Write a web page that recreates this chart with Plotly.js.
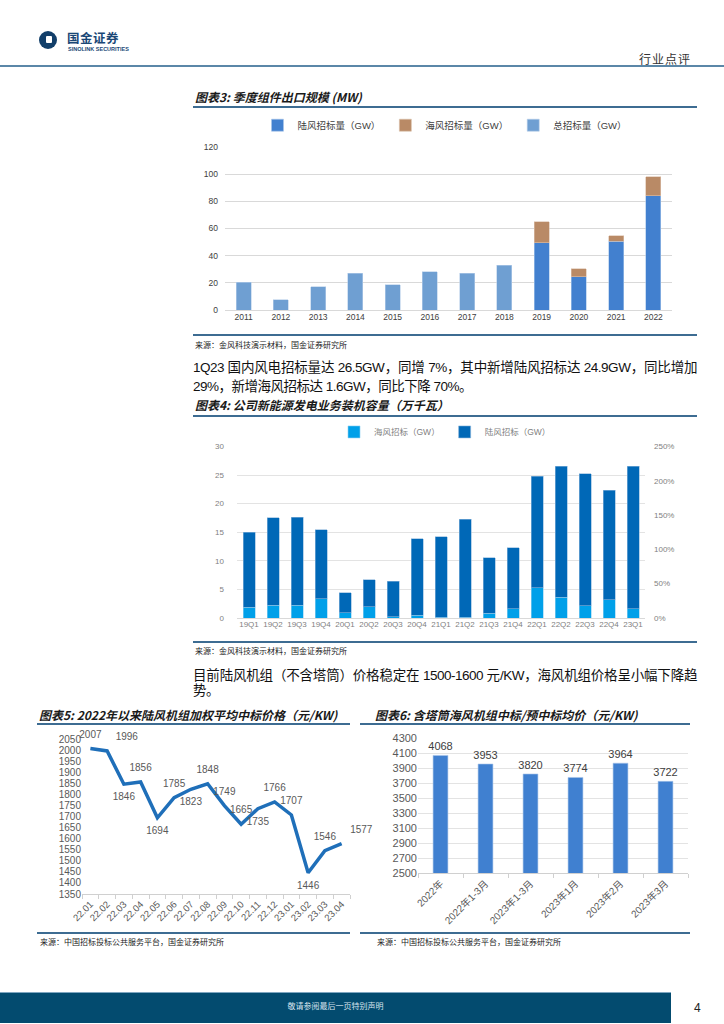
<!DOCTYPE html>
<html><head><meta charset="utf-8">
<script src="https://cdn.plot.ly/plotly-3.0.1.min.js"></script>
<style>
body{margin:0;width:724px;height:1024px;position:relative;background:#fff;overflow:hidden;font-family:"Liberation Sans","Noto Sans CJK SC",sans-serif}
.abs{position:absolute;white-space:nowrap}
.ttl{position:absolute;white-space:nowrap;font-family:"Noto Sans CJK SC",sans-serif;font-weight:bold;font-style:italic;font-size:12px;color:#1a1a1a;line-height:14px}
.hl{position:absolute;height:2px;background:#3d6c92}
.src{position:absolute;white-space:nowrap;font-family:"Noto Sans CJK SC",sans-serif;font-size:8px;color:#222;line-height:10px}
.pl{position:absolute;font-size:13.5px;letter-spacing:-0.5px;color:#111;white-space:nowrap;font-family:"Liberation Sans","Noto Sans CJK SC",sans-serif;line-height:16px}
.pj{text-align:justify;text-align-last:justify;white-space:normal}
.plot{position:absolute}
</style>
</head><body>
<!-- header -->
<div class="abs" style="left:39px;top:31px;width:18px;height:18px;border-radius:50%;background:#123f6a"></div>
<div class="abs" style="left:46px;top:36px;width:6px;height:7px;border-radius:1px;background:#fff"></div>
<div class="abs" style="left:67px;top:31px;font-family:'Noto Sans CJK SC';font-weight:bold;font-size:12.5px;color:#1a4776;letter-spacing:0.5px;line-height:13px">国金证券</div>
<div class="abs" style="left:68px;top:46px;font-family:'Liberation Sans';font-weight:bold;font-size:5.5px;color:#1a4776;line-height:6px">SINOLINK SECURITIES</div>
<div class="abs" style="left:639px;top:52px;font-family:'Noto Sans CJK SC';font-size:12px;color:#333;letter-spacing:1px;line-height:14px">行业点评</div>
<div class="hl" style="left:0;top:65px;width:724px;background:#5b87a8"></div>

<!-- chart 3 -->
<div class="ttl" style="left:195px;top:90px">图表3: 季度组件出口规模 (MW)</div>
<div class="hl" style="left:193px;top:106px;width:504px;height:1.5px"></div>
<div id="c1" class="plot" style="left:185px;top:112px;width:500px;height:220px"></div>
<div class="hl" style="left:193px;top:334px;width:504px;height:1.5px"></div>
<div class="src" style="left:195px;top:340px">来源：金风科技演示材料，国金证券研究所</div>

<div class="pl pj" style="left:193px;top:360px;width:504px">1Q23 国内风电招标量达 26.5GW，同增 7%，其中新增陆风招标达 24.9GW，同比增加</div>
<div class="pl" style="left:193px;top:379px">29%，新增海风招标达 1.6GW，同比下降 70%。</div>

<!-- chart 4 -->
<div class="ttl" style="left:195px;top:398px">图表4: 公司新能源发电业务装机容量（万千瓦）</div>
<div class="hl" style="left:193px;top:415px;width:504px;height:1.5px"></div>
<div id="c2" class="plot" style="left:185px;top:420px;width:520px;height:225px"></div>
<div class="hl" style="left:193px;top:641px;width:504px;height:1.5px"></div>
<div class="src" style="left:195px;top:646px">来源：金风科技演示材料，国金证券研究所</div>

<div class="pl pj" style="left:193px;top:668px;width:504px">目前陆风机组（不含塔筒）价格稳定在 1500-1600 元/KW，海风机组价格呈小幅下降趋</div>
<div class="pl" style="left:193px;top:683px">势。</div>

<!-- chart 5 -->
<div class="ttl" style="left:39px;top:708px">图表5: 2022年以来陆风机组加权平均中标价格（元/KW)</div>
<div class="hl" style="left:37px;top:723px;width:313px;height:1.5px"></div>
<div id="c5" class="plot" style="left:30px;top:728px;width:345px;height:205px"></div>
<div class="hl" style="left:37px;top:932px;width:313px;height:1.5px"></div>
<div class="src" style="left:40px;top:937px">来源：中国招标投标公共服务平台，国金证券研究所</div>

<!-- chart 6 -->
<div class="ttl" style="left:375px;top:708px">图表6: 含塔筒海风机组中标/预中标均价（元/KW)</div>
<div class="hl" style="left:360px;top:723px;width:330px;height:1.5px"></div>
<div id="c6" class="plot" style="left:365px;top:728px;width:330px;height:205px"></div>
<div class="hl" style="left:360px;top:932px;width:330px;height:1.5px"></div>
<div class="src" style="left:377px;top:937px">来源：中国招标投标公共服务平台，国金证券研究所</div>

<!-- footer -->
<div class="abs" style="left:0;top:992px;width:671px;height:30px;background:#034b6f;border-top:1px solid #7fa6c0"></div>
<div class="abs" style="left:0;top:1000px;width:671px;text-align:center;font-family:'Noto Sans CJK SC';font-size:8px;color:#d6e3ee;line-height:12px">敬请参阅最后一页特别声明</div>
<div class="abs" style="left:694px;top:1001px;font-family:'Liberation Sans';font-size:12px;color:#222;line-height:14px">4</div>

<script>
// ---------- data ----------
var c1Years = ['2011','2012','2013','2014','2015','2016','2017','2018','2019','2020','2021','2022'];
var c1Onshore = [null,null,null,null,null,null,null,null,49.5,24.5,50.5,84];
var c1Offshore = [null,null,null,null,null,null,null,null,15.5,6,4,14];
var c1Total = [20.5,7.5,17,27,18.5,28,27,33,null,null,null,null];
var c1Names = ['陆风招标量（GW）','海风招标量（GW）','总招标量（GW）'];

var c2Quarters = ['19Q1','19Q2','19Q3','19Q4','20Q1','20Q2','20Q3','20Q4','21Q1','21Q2','21Q3','21Q4','22Q1','22Q2','22Q3','22Q4','23Q1'];
var c2Offshore = [1.9,2.2,2.2,3.4,0.9,2.0,0.2,0.5,0.1,0.1,0.8,1.6,5.3,3.6,2.1,3.2,1.6];
var c2Onshore = [13.1,15.3,15.4,12.0,3.5,4.7,6.2,13.4,14.1,17.2,9.7,10.7,19.5,22.9,23.1,19.1,24.9];
var c2Names = ['海风招标（GW）','陆风招标（GW）'];

var c5Months = ['22.01','22.02','22.03','22.04','22.05','22.06','22.07','22.08','22.09','22.10','22.11','22.12','23.01','23.02','23.03','23.04'];
var c5Price = [2007,1996,1846,1856,1694,1785,1823,1848,1749,1665,1735,1766,1707,1446,1546,1577];
var c5LabelPos = ['top center','top right','bottom center','top center','bottom center','top center','bottom center','top center','top center','top center','bottom center','top center','top center','bottom center','top center','top right'];

var c6Periods = ['2022年','2022年1-3月','2023年1-3月','2023年1月','2023年2月','2023年3月'];
var c6Price = [4068,3953,3820,3774,3964,3722];

// ---------- helpers ----------
var CJK = '"Liberation Sans","Noto Sans CJK SC",sans-serif';
var cfg = {staticPlot:true, displayModeBar:false};

// ---------- chart 1 ----------
Plotly.newPlot('c1', [
  {type:'bar', name:c1Names[0], x:c1Years, y:c1Onshore, marker:{color:'#4280cf', line:{color:'#a9c6ea', width:0.6}}},
  {type:'bar', name:c1Names[1], x:c1Years, y:c1Offshore, marker:{color:'#b98a66', line:{color:'#dcc2ae', width:0.6}}},
  {type:'bar', name:c1Names[2], x:c1Years, y:c1Total, marker:{color:'#6f9fd2', line:{color:'#b7cfea', width:0.6}}}
], {
  width:500, height:220, margin:{l:40, r:13, t:35, b:22},
  paper_bgcolor:'rgba(0,0,0,0)', plot_bgcolor:'rgba(0,0,0,0)',
  barmode:'stack', bargap:0.6,
  font:{family:CJK, size:8.5, color:'#404040'},
  showlegend:true,
  legend:{orientation:'h', xref:'container', yref:'container', x:0.52, xanchor:'center', y:0.94, yanchor:'middle', traceorder:'normal', font:{size:9.5, color:'#404040'}, itemwidth:30},
  xaxis:{type:'category', showline:false, ticks:'', showgrid:false, tickfont:{size:8.5}},
  yaxis:{range:[0,120], dtick:20, showgrid:true, gridcolor:'#d9d9d9', gridwidth:1, zeroline:true, zerolinecolor:'#d9d9d9', showline:false, ticks:'', tickfont:{size:8.5}, ticklabelstandoff:6}
}, cfg);

// ---------- chart 2 ----------
Plotly.newPlot('c2', [
  {type:'bar', name:c2Names[0], x:c2Quarters, y:c2Offshore, marker:{color:'#00a0e9', line:{color:'#8fd0f2', width:0.6}}},
  {type:'bar', name:c2Names[1], x:c2Quarters, y:c2Onshore, marker:{color:'#0068b7', line:{color:'#8ab5dc', width:0.6}}},
  {type:'scatter', mode:'lines', x:c2Quarters, y:c2Quarters.map(function(){return null;}), yaxis:'y2', showlegend:false, hoverinfo:'skip'}
], {
  width:520, height:225, margin:{l:52, r:60, t:22, b:27},
  paper_bgcolor:'rgba(0,0,0,0)', plot_bgcolor:'rgba(0,0,0,0)',
  barmode:'stack', bargap:0.5,
  font:{family:CJK, size:8, color:'#7f7f7f'},
  showlegend:true,
  legend:{orientation:'h', xref:'container', yref:'container', x:0.5, xanchor:'center', y:0.947, yanchor:'middle', traceorder:'normal', font:{size:8.5, color:'#7f7f7f'}},
  xaxis:{type:'category', showline:false, ticks:'', showgrid:false, tickfont:{size:8}},
  yaxis:{range:[0,30], dtick:5, showgrid:true, gridcolor:'#e3e3e3', gridwidth:1, zeroline:true, zerolinecolor:'#d9d9d9', showline:false, ticks:'', tickfont:{size:8}, ticklabelstandoff:12},
  yaxis2:{overlaying:'y', side:'right', range:[0,2.5], dtick:0.5, tickformat:'.0%', showgrid:false, zeroline:false, showline:false, ticks:'', tickfont:{size:8}, ticklabelstandoff:8}
}, cfg);

// ---------- chart 5 ----------
Plotly.newPlot('c5', [
  {type:'scatter', mode:'lines+markers+text', x:c5Months, y:c5Price, text:c5Price.map(String), textposition:c5LabelPos,
   textfont:{size:10, color:'#595959'}, marker:{size:12, opacity:0}, line:{color:'#1f6fb9', width:3.5}, cliponaxis:false, showlegend:false}
], {
  width:345, height:205, margin:{l:52, r:25, t:11, b:39},
  paper_bgcolor:'rgba(0,0,0,0)', plot_bgcolor:'rgba(0,0,0,0)',
  font:{family:CJK, size:10, color:'#595959'},
  xaxis:{type:'category', range:[-0.5, c5Months.length-0.5], autorange:false, showline:true, linecolor:'#d0d0d0', linewidth:1, ticks:'outside', tickson:'boundaries', ticklen:4, tickcolor:'#d0d0d0', showgrid:false, tickangle:-45, tickfont:{size:9.5}},
  yaxis:{range:[1350,2050], dtick:50, showgrid:false, zeroline:false, showline:false, ticks:'', tickfont:{size:10}}
}, cfg);

// ---------- chart 6 ----------
Plotly.newPlot('c6', [
  {type:'bar', x:c6Periods, y:c6Price, text:c6Price.map(String), textposition:'outside', cliponaxis:false, constraintext:'none',
   textfont:{size:11, color:'#404040'}, outsidetextfont:{size:11, color:'#404040'}, marker:{color:'#4080d0', line:{color:'#a8c4ea', width:0.6}}, showlegend:false}
], {
  width:330, height:205, margin:{l:53, r:7, t:10, b:60},
  paper_bgcolor:'rgba(0,0,0,0)', plot_bgcolor:'rgba(0,0,0,0)',
  bargap:0.67,
  font:{family:CJK, size:10, color:'#595959'},
  xaxis:{type:'category', showline:true, linecolor:'#d0d0d0', linewidth:1, ticks:'outside', tickson:'boundaries', ticklen:4, tickcolor:'#d0d0d0', showgrid:false, tickangle:-45, tickfont:{size:10}},
  yaxis:{range:[2500,4300], tick0:2500, dtick:200, showgrid:true, gridcolor:'#e3e3e3', zeroline:false, showline:false, ticks:'', tickfont:{size:11}}
}, cfg);
</script>
</body></html>
